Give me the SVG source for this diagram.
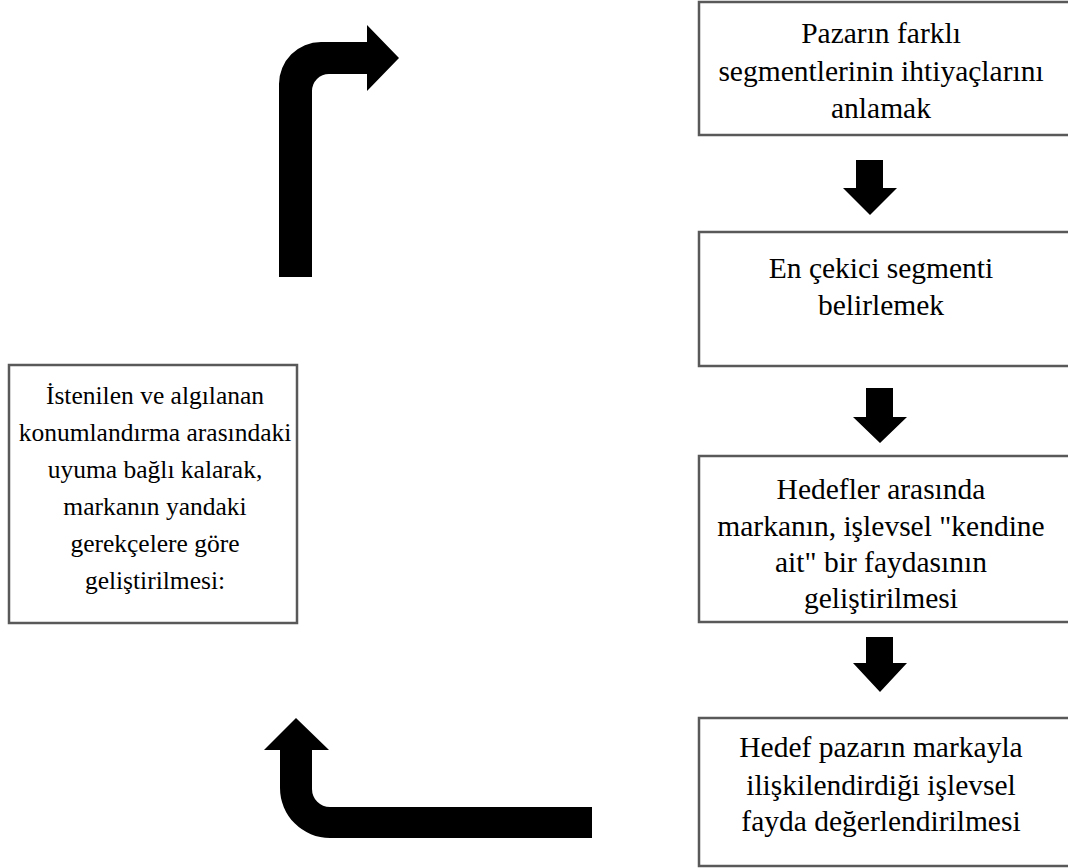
<svg xmlns="http://www.w3.org/2000/svg" width="1068" height="868" viewBox="0 0 1068 868">
<style>
.box{fill:#fff;stroke:#595959;stroke-width:2.5}
.t{font-family:"Liberation Serif","Times New Roman",serif;font-size:29.5px;fill:#000;text-anchor:middle}
.s{font-size:25.5px}
.arr{fill:#000}
</style>
<rect width="1068" height="868" fill="#fff"/>
<g id="connectors">
<path class="arr" d="M279,277 L279,84 A42,42 0 0 1 321,42 L367,42 L367,25 L399,58 L367,91 L367,74 L329,74 A17,17 0 0 0 312,91 L312,277 Z"/>
<path class="arr" d="M280,750 L264,750 L296,718 L329,750 L312,750 L312,789 A18,18 0 0 0 330,807 L592,807 L592,838 L330,838 A50,50 0 0 1 280,788 Z"/>
<path class="arr" d="M856,160 L883,160 L883,188 L897,188 L870,215 L843,188 L856,188 Z"/>
<path class="arr" d="M866,388 L893,388 L893,417 L907,417 L880,443 L853,417 L866,417 Z"/>
<path class="arr" d="M866,637 L893,637 L893,663 L907,663 L880,692 L853,663 L866,663 Z"/>
</g>
<g id="node1">
<rect class="box" x="699" y="2" width="380" height="133"/>
<text class="t" x="881" y="43">Pazarın farklı</text>
<text class="t" x="881" y="81">segmentlerinin ihtiyaçlarını</text>
<text class="t" x="881" y="118">anlamak</text>
</g>
<g id="node2">
<rect class="box" x="699" y="232" width="380" height="134"/>
<text class="t" x="881" y="278">En çekici segmenti</text>
<text class="t" x="881" y="315">belirlemek</text>
</g>
<g id="node3">
<rect class="box" x="699" y="456" width="380" height="166"/>
<text class="t" x="881" y="499">Hedefler arasında</text>
<text class="t" x="881" y="536">markanın, işlevsel "kendine</text>
<text class="t" x="881" y="572">ait" bir faydasının</text>
<text class="t" x="881" y="608">geliştirilmesi</text>
</g>
<g id="node4">
<rect class="box" x="699" y="718" width="380" height="148"/>
<text class="t" x="881" y="757">Hedef pazarın markayla</text>
<text class="t" x="881" y="795">ilişkilendirdiği işlevsel</text>
<text class="t" x="881" y="831">fayda değerlendirilmesi</text>
</g>
<g id="node5">
<rect class="box" x="9" y="365" width="288" height="258"/>
<text class="t s" x="155" y="404">İstenilen ve algılanan</text>
<text class="t s" x="155" y="441">konumlandırma arasındaki</text>
<text class="t s" x="155" y="478">uyuma bağlı kalarak,</text>
<text class="t s" x="155" y="515">markanın yandaki</text>
<text class="t s" x="155" y="552">gerekçelere göre</text>
<text class="t s" x="155" y="589">geliştirilmesi:</text>
</g>
</svg>
